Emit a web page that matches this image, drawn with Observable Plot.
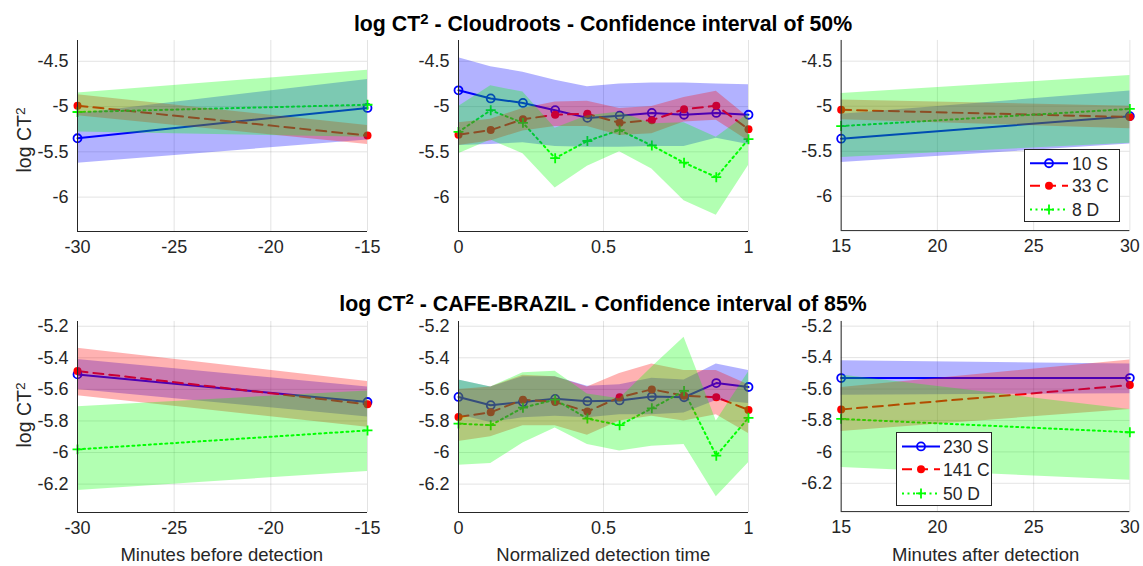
<!DOCTYPE html>
<html>
<head>
<meta charset="utf-8">
<script src="https://cdn.jsdelivr.net/npm/d3@7"></script>
<script src="https://cdn.jsdelivr.net/npm/@observablehq/plot@0.6"></script>
<style>
  body { margin: 0; background: #fff; font-family: "Liberation Sans", Arial, sans-serif; }
  #root { position: relative; width: 1143px; height: 566px; overflow: hidden; background: #fff; }
  .title { position: absolute; font-weight: bold; font-size: 21.3px; line-height: 1; color: #000; white-space: nowrap; transform: translateX(-50%); }
  .xlabel { position: absolute; font-size: 18.5px; line-height: 1; color: #262626; white-space: nowrap; transform: translateX(-50%); }
  .ylabel { position: absolute; font-size: 19.5px; line-height: 1; color: #262626; white-space: nowrap; transform: translate(-50%, -50%) rotate(-90deg); }
  sup { font-size: 0.7em; line-height: 0; vertical-align: 0.45em; }
  .legend { position: absolute; border: 1px solid #262626; background: #fff; box-sizing: border-box; }
  .plot { position: absolute; }
</style>
</head>
<body>
<div id="root"></div>
<script>
// ---------------- DATA ----------------
const xBefore = [-30, -15];
const xAfter = [15, 30];
const xNorm = [0, 1/9, 2/9, 3/9, 4/9, 5/9, 6/9, 7/9, 8/9, 1];

const ticksBefore = [-30, -25, -20, -15];
const ticksAfter = [15, 20, 25, 30];
const ticksNorm = [0, 0.5, 1];
const yTicksTop = [-6, -5.5, -5, -4.5];
const yTicksBottom = [-6.2, -6, -5.8, -5.6, -5.4, -5.2];

const titleTop = "Cloudroots - Confidence interval of 50%";
const titleBottom = "CAFE-BRAZIL - Confidence interval of 85%";
const legendTop = ["10 S", "33 C", "8 D"];
const legendBottom = ["230 S", "141 C", "50 D"];

// Cloudroots, before detection
const crBefore_S_mean = [-5.35, -5.015];
const crBefore_S_lo   = [-5.625, -5.37];
const crBefore_S_hi   = [-5.08, -4.70];
const crBefore_C_mean = [-4.99, -5.32];
const crBefore_C_lo   = [-5.10, -5.42];
const crBefore_C_hi   = [-4.87, -5.21];
const crBefore_D_mean = [-5.06, -4.98];
const crBefore_D_lo   = [-5.28, -5.34];
const crBefore_D_hi   = [-4.85, -4.60];

// Cloudroots, normalized detection time
const crNorm_S_mean = [-4.82, -4.91, -4.96, -5.04, -5.125, -5.10, -5.07, -5.09, -5.07, -5.09];
const crNorm_S_lo   = [-5.43, -5.42, -5.40, -5.44, -5.45, -5.45, -5.44, -5.44, -5.35, -5.42];
const crNorm_S_hi   = [-4.46, -4.56, -4.62, -4.71, -4.78, -4.75, -4.74, -4.74, -4.75, -4.76];
const crNorm_C_mean = [-5.31, -5.26, -5.14, -5.09, -5.08, -5.18, -5.15, -5.03, -4.99, -5.25];
const crNorm_C_lo   = [-5.43, -5.38, -5.27, -5.22, -5.22, -5.32, -5.30, -5.17, -5.15, -5.38];
const crNorm_C_hi   = [-5.18, -5.14, -5.02, -4.95, -4.94, -5.02, -5.00, -4.90, -4.83, -5.12];
const crNorm_D_mean = [-5.28, -5.04, -5.18, -5.57, -5.38, -5.26, -5.43, -5.62, -5.78, -5.36];
const crNorm_D_lo   = [-5.52, -5.37, -5.52, -5.90, -5.66, -5.50, -5.69, -6.04, -6.20, -5.65];
const crNorm_D_hi   = [-5.00, -4.77, -4.84, -5.24, -5.10, -5.06, -5.19, -5.18, -5.34, -5.08];

// Cloudroots, after detection
const crAfter_S_mean = [-5.36, -5.11];
const crAfter_S_lo   = [-5.625, -5.42];
const crAfter_S_hi   = [-5.09, -4.83];
const crAfter_C_mean = [-5.04, -5.12];
const crAfter_C_lo   = [-5.15, -5.25];
const crAfter_C_hi   = [-4.93, -5.00];
const crAfter_D_mean = [-5.22, -5.03];
const crAfter_D_lo   = [-5.57, -5.41];
const crAfter_D_hi   = [-4.86, -4.66];

// CAFE-BRAZIL, before detection
const cbBefore_S_mean = [-5.505, -5.68];
const cbBefore_S_lo   = [-5.60, -5.775];
const cbBefore_S_hi   = [-5.41, -5.585];
const cbBefore_C_mean = [-5.484, -5.695];
const cbBefore_C_lo   = [-5.64, -5.84];
const cbBefore_C_hi   = [-5.34, -5.55];
const cbBefore_D_mean = [-5.98, -5.86];
const cbBefore_D_lo   = [-6.24, -6.12];
const cbBefore_D_hi   = [-5.71, -5.61];

// CAFE-BRAZIL, normalized detection time
const cbNorm_S_mean = [-5.648, -5.70, -5.68, -5.66, -5.675, -5.67, -5.645, -5.65, -5.56, -5.585];
const cbNorm_S_lo   = [-5.76, -5.81, -5.78, -5.77, -5.78, -5.76, -5.76, -5.75, -5.67, -5.69];
const cbNorm_S_hi   = [-5.54, -5.585, -5.52, -5.52, -5.58, -5.57, -5.53, -5.54, -5.44, -5.48];
const cbNorm_C_mean = [-5.775, -5.745, -5.665, -5.68, -5.74, -5.65, -5.60, -5.64, -5.65, -5.73];
const cbNorm_C_lo   = [-5.93, -5.90, -5.83, -5.83, -5.89, -5.80, -5.77, -5.80, -5.76, -5.88];
const cbNorm_C_hi   = [-5.60, -5.585, -5.51, -5.52, -5.585, -5.50, -5.44, -5.48, -5.48, -5.57];
const cbNorm_D_mean = [-5.817, -5.827, -5.716, -5.665, -5.785, -5.827, -5.72, -5.61, -6.02, -5.78];
const cbNorm_D_lo   = [-6.08, -6.07, -5.94, -5.845, -5.95, -5.99, -5.96, -5.95, -6.28, -6.065];
const cbNorm_D_hi   = [-5.54, -5.585, -5.495, -5.485, -5.63, -5.66, -5.46, -5.27, -5.80, -5.49];

// CAFE-BRAZIL, after detection
const cbAfter_S_mean = [-5.53, -5.53];
const cbAfter_S_lo   = [-5.64, -5.63];
const cbAfter_S_hi   = [-5.42, -5.44];
const cbAfter_C_mean = [-5.73, -5.575];
const cbAfter_C_lo   = [-5.87, -5.73];
const cbAfter_C_hi   = [-5.59, -5.415];
const cbAfter_D_mean = [-5.79, -5.875];
const cbAfter_D_lo   = [-6.10, -6.18];
const cbAfter_D_hi   = [-5.51, -5.73];

// ---------------- STYLE ----------------
const FONT = '"Liberation Sans", Arial, sans-serif';
const AXIS = "#262626";
const STYLES = {
  S: { color: "#0000ff", dash: null, symbol: "circle", fill: "none", stroke: "#0000ff", r: 4 },
  C: { color: "#ff0000", dash: "10,6", symbol: "circle", fill: "#ff0000", stroke: "none", r: 4 },
  D: { color: "#00ff00", dash: "2,3.5", symbol: "plus", fill: "none", stroke: "#00ff00", r: 3.3 }
};
const BAND = { S: "#0000ff", C: "#ff0000", D: "#00ff00" };

const PW = 290, PH = 191, ML = 77, MR = 14, MT = 10, MB = 40;
const root = document.getElementById("root");
const fmt = d => String(d);

function panel(x, S, C, D, xDomain, xTicks, yDomain, yTicks, left, top) {
  const ser = { S, C, D };
  const keys = ["S", "C", "D"];
  const rows = {};
  keys.forEach(k => {
    rows[k] = x.map((xv, i) => ({ x: xv, mean: ser[k][0][i], lo: ser[k][1][i], hi: ser[k][2][i] }));
  });
  const marks = [
    Plot.gridX(xTicks, { stroke: AXIS, strokeOpacity: 0.13, strokeWidth: 1 }),
    Plot.gridY(yTicks, { stroke: AXIS, strokeOpacity: 0.13, strokeWidth: 1 })
  ];
  keys.forEach(k => {
    const st = STYLES[k];
    marks.push(Plot.line(rows[k], { x: "x", y: "mean", stroke: st.color, strokeWidth: 2, strokeDasharray: st.dash }));
  });
  keys.forEach(k => {
    const st = STYLES[k];
    marks.push(Plot.dot(rows[k], { x: "x", y: "mean", symbol: st.symbol, r: st.r, fill: st.fill, stroke: st.stroke, strokeWidth: 1.8 }));
  });
  keys.forEach(k => {
    marks.push(Plot.areaY(rows[k], { x: "x", y1: "lo", y2: "hi", fill: BAND[k], fillOpacity: 0.3 }));
  });
  marks.push(
    Plot.ruleX([xDomain[0]], { stroke: AXIS, strokeWidth: 1 }),
    Plot.ruleY([yDomain[0]], { stroke: AXIS, strokeWidth: 1 }),
    Plot.axisX(xTicks, { tickSize: 0, tickPadding: 9, fontSize: 18, tickFormat: fmt, label: null }),
    Plot.axisY(yTicks, { tickSize: 0, tickPadding: 9, fontSize: 18, tickFormat: fmt, label: null })
  );
  const svg = Plot.plot({
    width: ML + PW + MR,
    height: MT + PH + MB,
    marginLeft: ML, marginRight: MR, marginTop: MT, marginBottom: MB,
    x: { domain: xDomain },
    y: { domain: yDomain },
    style: { fontFamily: FONT, color: AXIS, background: "transparent", overflow: "visible" },
    marks
  });
  const wrap = document.createElement("div");
  wrap.className = "plot";
  wrap.style.left = (left - ML) + "px";
  wrap.style.top = (top - MT) + "px";
  wrap.appendChild(svg);
  root.appendChild(wrap);
}

const yDomTop = [-6.38, -4.27];
const yDomBottom = [-6.38, -5.17];
const colX = [76.7, 458.3, 840.7];
const rowY = [40, 321.3];

panel(xBefore, [crBefore_S_mean, crBefore_S_lo, crBefore_S_hi], [crBefore_C_mean, crBefore_C_lo, crBefore_C_hi], [crBefore_D_mean, crBefore_D_lo, crBefore_D_hi],
      [-30, -15], ticksBefore, yDomTop, yTicksTop, colX[0], rowY[0]);
panel(xNorm, [crNorm_S_mean, crNorm_S_lo, crNorm_S_hi], [crNorm_C_mean, crNorm_C_lo, crNorm_C_hi], [crNorm_D_mean, crNorm_D_lo, crNorm_D_hi],
      [0, 1], ticksNorm, yDomTop, yTicksTop, colX[1], rowY[0]);
panel(xAfter, [crAfter_S_mean, crAfter_S_lo, crAfter_S_hi], [crAfter_C_mean, crAfter_C_lo, crAfter_C_hi], [crAfter_D_mean, crAfter_D_lo, crAfter_D_hi],
      [15, 30], ticksAfter, yDomTop, yTicksTop, colX[2], rowY[0]);
panel(xBefore, [cbBefore_S_mean, cbBefore_S_lo, cbBefore_S_hi], [cbBefore_C_mean, cbBefore_C_lo, cbBefore_C_hi], [cbBefore_D_mean, cbBefore_D_lo, cbBefore_D_hi],
      [-30, -15], ticksBefore, yDomBottom, yTicksBottom, colX[0], rowY[1]);
panel(xNorm, [cbNorm_S_mean, cbNorm_S_lo, cbNorm_S_hi], [cbNorm_C_mean, cbNorm_C_lo, cbNorm_C_hi], [cbNorm_D_mean, cbNorm_D_lo, cbNorm_D_hi],
      [0, 1], ticksNorm, yDomBottom, yTicksBottom, colX[1], rowY[1]);
panel(xAfter, [cbAfter_S_mean, cbAfter_S_lo, cbAfter_S_hi], [cbAfter_C_mean, cbAfter_C_lo, cbAfter_C_hi], [cbAfter_D_mean, cbAfter_D_lo, cbAfter_D_hi],
      [15, 30], ticksAfter, yDomBottom, yTicksBottom, colX[2], rowY[1]);

// ---------------- TEXT ----------------
function addDiv(cls, html, left, top) {
  const d = document.createElement("div");
  d.className = cls;
  d.innerHTML = html;
  d.style.left = left + "px";
  d.style.top = top + "px";
  root.appendChild(d);
  return d;
}
addDiv("title", "log CT<sup>2</sup> - " + titleTop, 603, 14);
addDiv("title", "log CT<sup>2</sup> - " + titleBottom, 603, 294);
addDiv("ylabel", "log CT<sup>2</sup>", 25, 140);
addDiv("ylabel", "log CT<sup>2</sup>", 25, 415);
addDiv("xlabel", "Minutes before detection", 221.7, 546);
addDiv("xlabel", "Normalized detection time", 603.3, 546);
addDiv("xlabel", "Minutes after detection", 985.7, 546);

// ---------------- LEGENDS ----------------
function legend(labels, left, top, w, h, textX, lineW) {
  const box = document.createElement("div");
  box.className = "legend";
  Object.assign(box.style, { left: left + "px", top: top + "px", width: w + "px", height: h + "px" });
  const ns = "http://www.w3.org/2000/svg";
  const svg = document.createElementNS(ns, "svg");
  svg.setAttribute("width", w);
  svg.setAttribute("height", h);
  svg.style.position = "absolute";
  svg.style.left = "-1px";
  svg.style.top = "-1px";
  svg.style.overflow = "visible";
  const keys = ["S", "C", "D"];
  const rowsY = [h * 0.195, h * 0.505, h * 0.83];
  keys.forEach((k, i) => {
    const st = STYLES[k];
    const y = rowsY[i];
    const x0 = 6, x1 = 6 + lineW, xm = (x0 + x1) / 2;
    const ln = document.createElementNS(ns, "line");
    ln.setAttribute("x1", x0); ln.setAttribute("x2", x1);
    ln.setAttribute("y1", y); ln.setAttribute("y2", y);
    ln.setAttribute("stroke", st.color); ln.setAttribute("stroke-width", 2);
    if (st.dash) ln.setAttribute("stroke-dasharray", st.dash);
    svg.appendChild(ln);
    const sym = document.createElementNS(ns, "path");
    const size = k === "D" ? Math.PI * 3.3 * 3.3 : Math.PI * 4 * 4;
    const gen = k === "D" ? d3.symbol(d3.symbolPlus, size) : d3.symbol(d3.symbolCircle, size);
    sym.setAttribute("d", gen());
    sym.setAttribute("transform", `translate(${xm},${y})`);
    sym.setAttribute("fill", st.fill);
    sym.setAttribute("stroke", st.stroke);
    sym.setAttribute("stroke-width", 1.8);
    svg.appendChild(sym);
    const t = document.createElementNS(ns, "text");
    t.setAttribute("x", textX);
    t.setAttribute("y", y);
    t.setAttribute("dy", "0.36em");
    t.setAttribute("font-size", 17.5);
    t.setAttribute("font-family", FONT);
    t.setAttribute("fill", AXIS);
    t.textContent = labels[i];
    svg.appendChild(t);
  });
  box.appendChild(svg);
  root.appendChild(box);
}
legend(legendTop, 1024, 149, 96, 73, 48, 38);
legend(legendBottom, 896, 432, 96, 74, 47, 38);
</script>
</body>
</html>
